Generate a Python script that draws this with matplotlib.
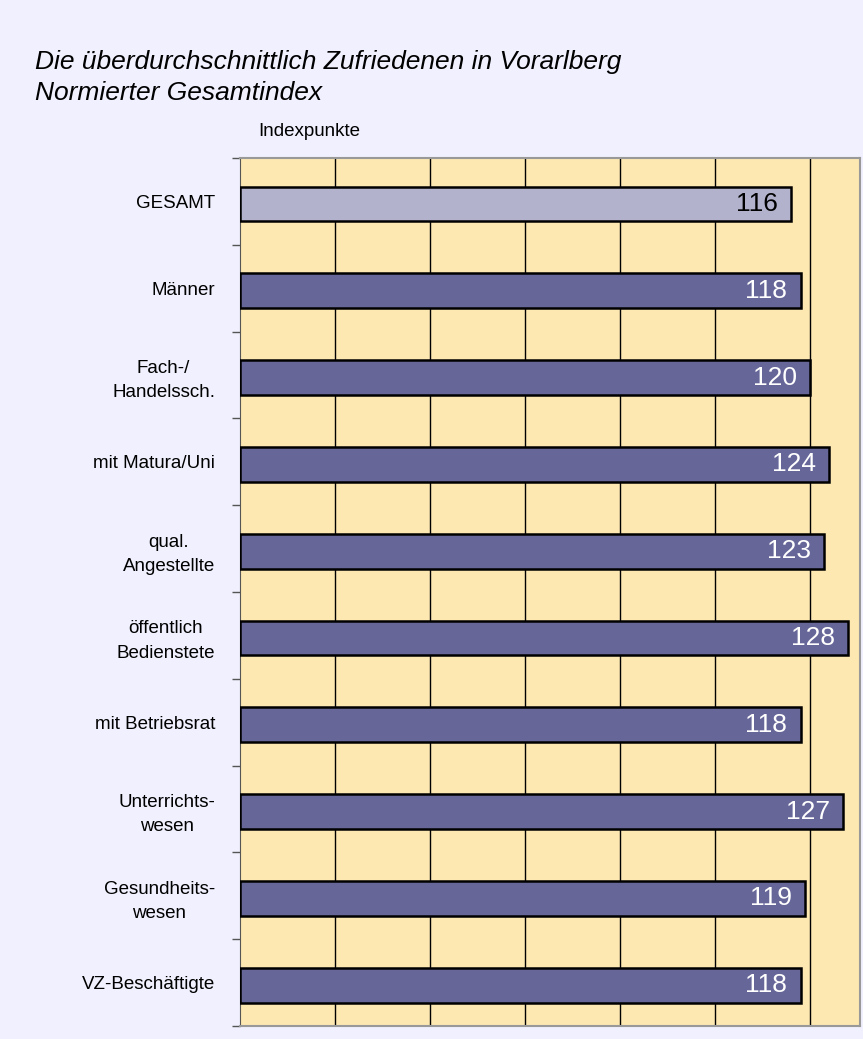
import matplotlib.pyplot as plt
import numpy as np

plt.rcParams['font.family'] = ['Liberation Sans', 'DejaVu Sans']

categories = ['GESAMT', 'Männer', 'Fach-/\nHandelssch.', 'mit Matura/Uni', 'qual.\nAngestellte',
              'öffentlich\nBedienstete', 'mit Betriebsrat', 'Unterrichts-\nwesen',
              'Gesundheits-\nwesen', 'VZ-Beschäftigte']
values = [116, 118, 120, 124, 123, 128, 118, 127, 119, 118]

fig = plt.figure(figsize=(8.63, 10.39), dpi=100)
fig.patch.set_facecolor('#F0F0FE')

ax = fig.add_axes([240/863, 1 - 1026/1039, 620/863, 868/1039])
ax.set_facecolor('#FDE8B2')

y = np.arange(len(categories))
colors = ['#B2B2CC'] + ['#666699'] * (len(categories) - 1)
ax.barh(y + 0.03, values, height=0.4, color=colors, edgecolor='black', linewidth=1.8, zorder=3)

for i, v in enumerate(values):
    c = 'black' if i == 0 else 'white'
    ax.text(v - 2.8, i + 0.03, str(v), ha='right', va='center', fontsize=19, color=c, zorder=4)

ax.set_xlim(0, 130.5)
ax.set_ylim(len(categories) - 0.5, -0.5)
ax.set_xticks(np.arange(20, 130, 20))
ax.xaxis.grid(True, color='black', linewidth=1.0, zorder=1)
ax.tick_params(axis='x', length=0, labelbottom=False)

ax.set_yticks(y)
ax.set_yticklabels(categories, fontsize=13.5, ha='right', multialignment='center', linespacing=1.55)
ax.tick_params(axis='y', which='major', length=0, pad=18)
ax.set_yticks(np.arange(-0.5, len(categories)), minor=True)
ax.tick_params(axis='y', which='minor', length=6, color='#555555', width=1)

for s in ['top', 'right', 'bottom']:
    ax.spines[s].set_color('#999999')
    ax.spines[s].set_linewidth(1.5)
ax.spines['left'].set_color('#555555')

fig.text(35/863, 1 - 62/1039, 'Die überdurchschnittlich Zufriedenen in Vorarlberg',
         fontsize=19, style='italic', va='center', ha='left')
fig.text(35/863, 1 - 93/1039, 'Normierter Gesamtindex',
         fontsize=19, style='italic', va='center', ha='left')
fig.text(258/863, 1 - 131/1039, 'Indexpunkte', fontsize=13.5, va='center', ha='left')

fig.savefig('out.png', dpi=100, facecolor=fig.get_facecolor())
